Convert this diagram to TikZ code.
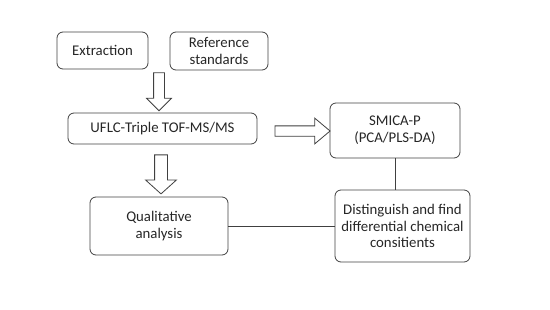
\documentclass[tikz,border=0pt]{standalone}
\usepackage{fontspec}
\setmainfont{Carlito}
\usetikzlibrary{shapes.arrows}
\begin{document}
\begin{tikzpicture}[x=1pt,y=-1pt,
  box/.style={draw=black!75, line width=0.8pt, rounded corners=6pt, align=center,
    font=\fontsize{14.8}{16.8}\selectfont, text=black!85, inner sep=0pt},
  blockarrow/.style={draw=black!75, line width=0.8pt, shape=single arrow, fill=white,
    inner xsep=0pt, single arrow head extend=7pt},
  link/.style={draw=black!75, line width=0.8pt}]
\useasboundingbox (0,0) rectangle (550,309);
\node[box, minimum width=91pt, minimum height=37pt] (ext) at (102.5,50.5) {Extraction};
\node[box, minimum width=98pt, minimum height=38pt] (ref) at (219,51) {Reference\\standards};
\node[box, minimum width=189pt, minimum height=31pt] (uflc) at (162.5,128.5) {UFLC-Triple TOF-MS/MS};
\node[box, minimum width=130pt, minimum height=55pt] (smica) at (395,130.5) {SMICA-P\\(PCA/PLS-DA)};
\node[box, minimum width=138pt, minimum height=58pt] (qual) at (159,226) {Qualitative\\analysis};
\node[box, minimum width=135pt, minimum height=72pt] (dist) at (402.5,226) {Distinguish and find\\differential chemical\\consitients};
% block arrows
\node[blockarrow, rotate=-90, minimum height=38pt, inner ysep=5pt, single arrow head extend=7pt,
  single arrow tip angle=90] (a1) at (159,89) {};
\node[blockarrow, rotate=-90, minimum height=39pt, inner ysep=6pt, single arrow head extend=9pt,
  single arrow tip angle=96] (a2) at (161,171.5) {};
\node[blockarrow, minimum height=55pt, inner ysep=4.75pt, single arrow head extend=7.75pt,
  single arrow tip angle=80] (a3) at (299.5,131) {};
% plain connectors
\draw[link] (smica.south) -- (smica.south |- dist.north);
\draw[link] (qual.east) -- (dist.west);
\end{tikzpicture}
\end{document}
